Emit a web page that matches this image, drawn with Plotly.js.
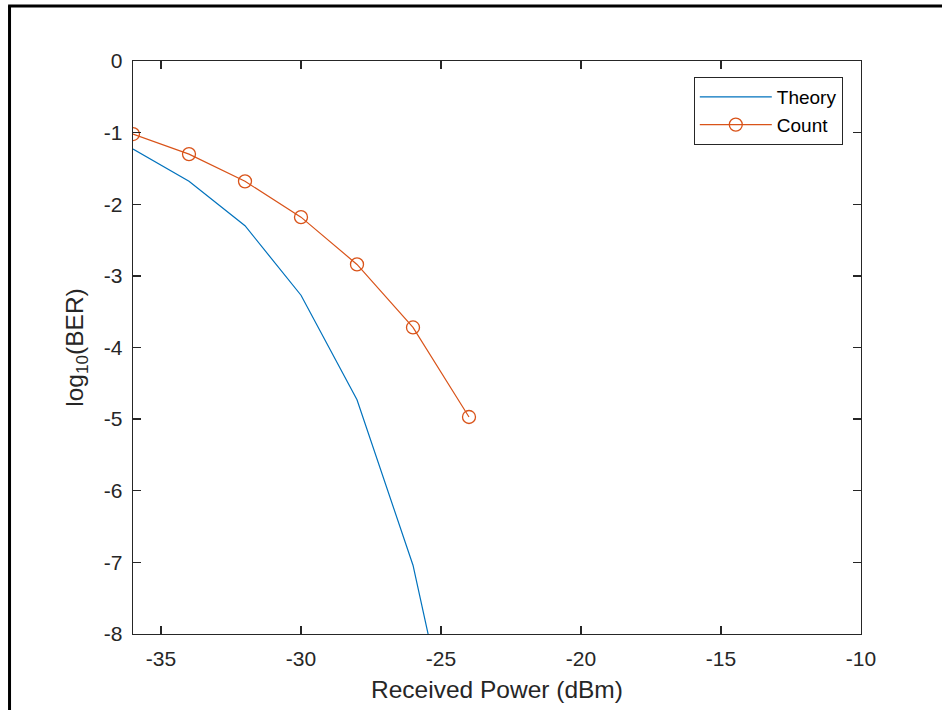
<!DOCTYPE html>
<html>
<head>
<meta charset="utf-8">
<script src="https://cdn.plot.ly/plotly-3.0.1.min.js"></script>
<style>
html,body{margin:0;padding:0;background:#fff;}
#chart{width:942px;height:710px;}
</style>
</head>
<body>
<div id="chart"></div>
<script>
// Data
const powerDbm = [-36, -34, -32, -30, -28, -26, -24];
const theoryLogBer = [-1.23, -1.68, -2.30, -3.27, -4.73, -7.04, -10.6];
const countLogBer = [-1.02, -1.30, -1.68, -2.18, -2.84, -3.72, -4.97];
const xTickVals = [-35, -30, -25, -20, -15, -10];
const yTickVals = [0, -1, -2, -3, -4, -5, -6, -7, -8];

const font = 'Liberation Sans, Arial, Helvetica, sans-serif';
const axisColor = '#262626';

const traces = [
  {
    x: powerDbm, y: theoryLogBer, name: 'Theory', type: 'scatter', mode: 'lines',
    line: {color: '#0072BD', width: 1.2}
  },
  {
    x: powerDbm, y: countLogBer, name: 'Count', type: 'scatter', mode: 'lines+markers',
    line: {color: '#D95319', width: 1.2},
    marker: {symbol: 'circle-open', size: 13, color: '#D95319', line: {width: 1.3, color: '#D95319'}}
  }
];

const layout = {
  width: 942, height: 710,
  margin: {l: 133, r: 81, t: 61, b: 76},
  paper_bgcolor: '#fff', plot_bgcolor: '#fff',
  font: {family: font, color: axisColor, size: 21},
  showlegend: true,
  legend: {
    x: 0.975, y: 0.972, xanchor: 'right', yanchor: 'top',
    bgcolor: '#fff', bordercolor: axisColor, borderwidth: 1,
    font: {family: font, size: 19, color: '#000'},
    itemwidth: 72, tracegroupgap: 0
  },
  xaxis: {
    range: [-36, -10], tickvals: xTickVals, ticktext: xTickVals.map(String),
    showgrid: false, zeroline: false,
    showline: true, linecolor: axisColor, linewidth: 1.3, mirror: 'ticks',
    ticks: 'inside', ticklen: 8, tickwidth: 1.3, tickcolor: axisColor,
    ticklabelstandoff: 5,
    tickfont: {family: font, size: 21, color: axisColor},
    title: {text: 'Received Power (dBm)', font: {family: font, size: 24.5, color: axisColor}, standoff: 12}
  },
  yaxis: {
    range: [-8, 0], tickvals: yTickVals, ticktext: yTickVals.map(String),
    showgrid: false, zeroline: false,
    showline: true, linecolor: axisColor, linewidth: 1.3, mirror: 'ticks',
    ticks: 'inside', ticklen: 8, tickwidth: 1.3, tickcolor: axisColor,
    ticklabelstandoff: 5,
    tickfont: {family: font, size: 21, color: axisColor},
    title: {text: 'log<sub>10</sub>(BER)', font: {family: font, size: 24.5, color: axisColor}, standoff: 13}
  },
  shapes: [
    {type: 'line', xref: 'paper', yref: 'paper', x0: -0.1696, x1: -0.1696, y0: 1.096, y1: -0.2,
     line: {color: '#000', width: 3}},
    {type: 'line', xref: 'paper', yref: 'paper', x0: -0.1716, x1: 1.2, y0: 1.096, y1: 1.096,
     line: {color: '#000', width: 3}}
  ]
};

Plotly.newPlot('chart', traces, layout, {displayModeBar: false, staticPlot: true});
</script>
</body>
</html>
